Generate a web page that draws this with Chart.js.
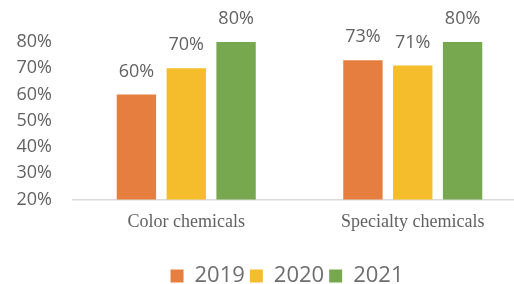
<!DOCTYPE html>
<html>
<head>
<meta charset="utf-8">
<script src="https://cdn.jsdelivr.net/npm/chart.js@4/dist/chart.umd.min.js"></script>
<style>
  html, body { margin: 0; padding: 0; background: #fff; overflow: hidden; }
  #wrap { width: 540px; height: 284px; }
</style>
</head>
<body>
<div id="wrap"><canvas id="chart" width="540" height="284"></canvas></div>
<script>
// === Data ===
const categories = ["Color chemicals", "Specialty chemicals"];
const years = ["2019", "2020", "2021"];
const values2019 = [60, 73];
const values2020 = [70, 71];
const values2021 = [80, 80];
const yTicks = [20, 30, 40, 50, 60, 70, 80];

// === Style ===
const colors = ["#E57E3F", "#F5BC2B", "#77A74F"];
const textGray = "#626262";
const legendGray = "#6E6E6E";
const sans = "'Open Sans', 'DejaVu Sans', sans-serif";
const serif = "'Liberation Serif', 'DejaVu Serif', serif";

// value labels above each bar
const barLabels = {
  id: "barLabels",
  afterDatasetsDraw(chart) {
    const ctx = chart.ctx;
    ctx.save();
    ctx.font = `18px ${sans}`;
    ctx.fillStyle = textGray;
    ctx.textAlign = "center";
    ctx.textBaseline = "middle";
    chart.data.datasets.forEach((ds, i) => {
      chart.getDatasetMeta(i).data.forEach((bar, j) => {
        ctx.fillText(`${ds.data[j]}%`, bar.x, bar.y - 23);
      });
    });
    ctx.restore();
  }
};

// nudge the legend to where it sits in the original
const legendShift = {
  id: "legendShift",
  afterLayout(chart) {
    const lg = chart.legend;
    if (!lg) return;
    lg.left += 24; lg.right += 24;
    lg.top += 15; lg.bottom += 15;
  }
};

const seriesData = [values2019, values2020, values2021];

new Chart(document.getElementById("chart"), {
  type: "bar",
  data: {
    labels: categories,
    datasets: years.map((y, i) => ({
      label: y,
      data: seriesData[i],
      backgroundColor: colors[i],
      borderWidth: 0,
      categoryPercentage: 0.66,
      barPercentage: 0.79,
    })),
  },
  options: {
    responsive: false,
    animation: false,
    layout: { padding: { top: 42, left: 0, right: 14, bottom: 2 } },
    plugins: {
      tooltip: { enabled: false },
      legend: {
        position: "bottom",
        labels: {
          font: { family: sans, size: 22 },
          color: legendGray,
          boxWidth: 13,
          boxHeight: 13,
          padding: 5,
        },
      },
    },
    scales: {
      x: {
        grid: { display: false, drawTicks: false },
        border: { display: true, color: "#D9D9D9", width: 1.5 },
        ticks: { font: { family: serif, size: 18 }, color: textGray, padding: 12 },
      },
      y: {
        min: 20,
        max: 80,
        afterFit: (scale) => { scale.width = 73; },
        afterBuildTicks: (scale) => { scale.ticks = yTicks.map(v => ({ value: v })); },
        grid: { display: false, drawTicks: false },
        border: { display: false },
        ticks: {
          font: { family: sans, size: 18 },
          color: textGray,
          padding: 21,
          callback: (v) => `${v}%`,
        },
      },
    },
  },
  plugins: [barLabels, legendShift],
});
</script>
</body>
</html>
